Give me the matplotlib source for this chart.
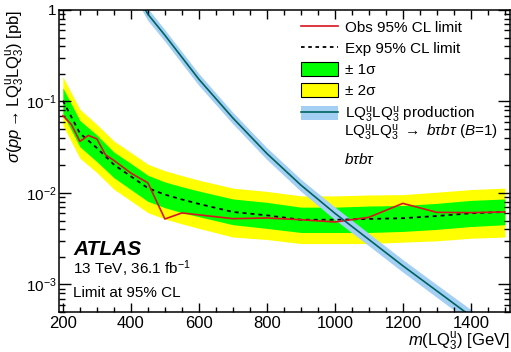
import numpy as np
import matplotlib
matplotlib.use("Agg")
import matplotlib.pyplot as plt
from matplotlib.patches import Patch
from matplotlib.lines import Line2D
from matplotlib.ticker import MultipleLocator, FixedLocator, NullFormatter

plt.rcParams['font.family'] = ['Liberation Sans', 'DejaVu Sans']
plt.rcParams['mathtext.fontset'] = 'custom'
plt.rcParams['mathtext.rm'] = 'Liberation Sans'
plt.rcParams['mathtext.it'] = 'Liberation Sans:italic'
plt.rcParams['mathtext.bf'] = 'Liberation Sans:bold'

## Observed limit
obs_mass = [200, 225, 250, 275, 300, 325, 350, 400, 450, 500, 550, 700, 800, 900, 1000, 1100, 1200, 1300, 1400, 1500]
obs_xsec = [0.070, 0.056, 0.0366, 0.0426, 0.039, 0.0262, 0.0227, 0.0165, 0.0129, 0.0052, 0.00605,
            0.00524, 0.00533, 0.0051, 0.00482, 0.00542, 0.0077, 0.00614, 0.0061, 0.0062]

## Expected limit and bands
exp_mass = [200, 250, 300, 350, 400, 450, 500, 550, 600, 700, 800, 900, 1000, 1100, 1200, 1300, 1400, 1500]
exp_xsec = [0.102, 0.045, 0.031, 0.0204, 0.0152, 0.0113, 0.0096, 0.0085, 0.0076, 0.0062, 0.0057, 0.0051,
            0.0051, 0.0052, 0.0053, 0.0056, 0.0060, 0.0062]
exp_p1 = [0.141, 0.062, 0.043, 0.028, 0.021, 0.0156, 0.0132, 0.0117, 0.0105, 0.0086, 0.0079, 0.0070,
          0.0070, 0.0072, 0.0073, 0.0077, 0.0083, 0.0086]
exp_p2 = [0.186, 0.082, 0.056, 0.037, 0.0277, 0.0206, 0.0175, 0.0155, 0.0138, 0.0113, 0.0104, 0.0093,
          0.0093, 0.0095, 0.0096, 0.0102, 0.0109, 0.0113]
exp_m1 = [0.073, 0.032, 0.022, 0.0147, 0.0109, 0.0081, 0.0069, 0.0061, 0.0055, 0.0045, 0.0041, 0.0037,
          0.0037, 0.0037, 0.0038, 0.0040, 0.0043, 0.0045]
exp_m2 = [0.055, 0.024, 0.0167, 0.011, 0.0082, 0.0061, 0.0052, 0.0046, 0.0041, 0.0033, 0.0031, 0.0028,
          0.0028, 0.0028, 0.0029, 0.0030, 0.0032, 0.0033]

## Theory cross section
th_mass = [400, 450, 500, 600, 700, 800, 900, 1000, 1100, 1200, 1300, 1400, 1500]
th_xsec = [1.95, 0.90, 0.53, 0.175, 0.066, 0.027, 0.0122, 0.0060, 0.0031, 0.0016, 0.00085, 0.00045, 0.00025]
th_up = [2.25, 1.04, 0.61, 0.202, 0.076, 0.0312, 0.0141, 0.0070, 0.0036, 0.00186, 0.00099, 0.00053, 0.00030]
th_dn = [1.68, 0.77, 0.455, 0.150, 0.057, 0.0232, 0.0104, 0.0051, 0.00264, 0.00136, 0.00072, 0.00038, 0.00021]

yticks = [1e-3, 1e-2, 1e-1, 1]
ylabels = [r'$10^{-3}$', r'$10^{-2}$', r'$10^{-1}$', '1']

fig = plt.figure(figsize=(5.11, 3.52), dpi=100)
ax = fig.add_axes([0.1164, 0.1136, 0.8816, 0.858])

yellow = '#ffff00'
green = '#00ff00'
blue = '#a3cff5'
teal = '#00635c'
red = '#d8141e'

ax.fill_between(exp_mass, exp_m2, exp_p2, color=yellow, lw=0)
ax.fill_between(exp_mass, exp_m1, exp_p1, color=green, lw=0)
ax.plot(exp_mass, exp_xsec, color='black', ls=(0, (2.2, 2.2)), lw=1.3)
ax.plot(obs_mass, obs_xsec, color=red, lw=1.2)
ax.fill_between(th_mass, th_dn, th_up, color=blue, lw=0)
ax.plot(th_mass, th_xsec, color=teal, lw=1.2)

ax.set_yscale('log')
ax.set_xlim(190, 1515)
ax.set_ylim(5e-4, 1)

ax.xaxis.set_major_locator(MultipleLocator(200))
ax.xaxis.set_minor_locator(MultipleLocator(50))
ax.yaxis.set_major_locator(FixedLocator(yticks))
ax.set_yticklabels(ylabels)
ax.yaxis.set_minor_locator(FixedLocator([m * 10.0**e for e in (-4, -3, -2, -1) for m in range(2, 10)]))
ax.yaxis.set_minor_formatter(NullFormatter())
ax.tick_params(which='both', direction='in', top=True, right=True, width=1.0)
ax.tick_params(axis='y', which='major', length=8.5, pad=2, labelsize=11)
ax.tick_params(axis='y', which='minor', length=4.5)
ax.tick_params(axis='x', which='major', length=6.5, pad=3, labelsize=12)
ax.tick_params(axis='x', which='minor', length=3.5)
for s in ax.spines.values():
    s.set_linewidth(1.1)

ax.set_ylabel(r'$\sigma(pp \rightarrow \mathrm{LQ}_3^{\mathrm{u}}\mathrm{LQ}_3^{\mathrm{u}})$ [pb]',
              fontsize=12, loc='top')
ax.yaxis.set_label_coords(-0.072, 1.0)
ax.set_xlabel(r'$m(\mathrm{LQ}_3^{\mathrm{u}})$ [GeV]', fontsize=12, loc='right')
ax.xaxis.set_label_coords(1.0, -0.062)

handles = [Line2D([], [], color=red, lw=1.2),
           Line2D([], [], color='black', ls=(0, (2, 2)), lw=1.3),
           Patch(facecolor=green, edgecolor='black', lw=0.8),
           Patch(facecolor=yellow, edgecolor='black', lw=0.8),
           (Patch(facecolor=blue, lw=0), Line2D([], [], color=teal, lw=1.2))]
labels = ['Obs 95% CL limit', 'Exp 95% CL limit', '± 1σ', '± 2σ',
          r'LQ$_3^{\mathrm{u}}$LQ$_3^{\mathrm{u}}$ production']
ax.legend(handles, labels, loc='upper left', bbox_to_anchor=(0.509, 1.008), frameon=False,
          fontsize=11, handlelength=2.4, handleheight=1.0, handletextpad=0.45,
          labelspacing=0.4, borderpad=0.3)

ax.text(0.6315, 0.58, r'LQ$_3^{\mathrm{u}}$LQ$_3^{\mathrm{u}}$ $\rightarrow$ $b\tau b\tau$ ($B$=1)',
        transform=ax.transAxes, fontsize=11, va='baseline')
ax.text(0.6315, 0.49, r'$b\tau b\tau$', transform=ax.transAxes, fontsize=11, va='baseline')

ax.text(0.03, 0.19, 'ATLAS', transform=ax.transAxes, fontsize=15, fontweight='bold',
        style='italic', va='baseline')
ax.text(0.03, 0.125, r'13 TeV, 36.1 fb$^{-1}$', transform=ax.transAxes, fontsize=11, va='baseline')
ax.text(0.03, 0.05, 'Limit at 95% CL', transform=ax.transAxes, fontsize=11, va='baseline')

fig.savefig('out.png', dpi=100)
